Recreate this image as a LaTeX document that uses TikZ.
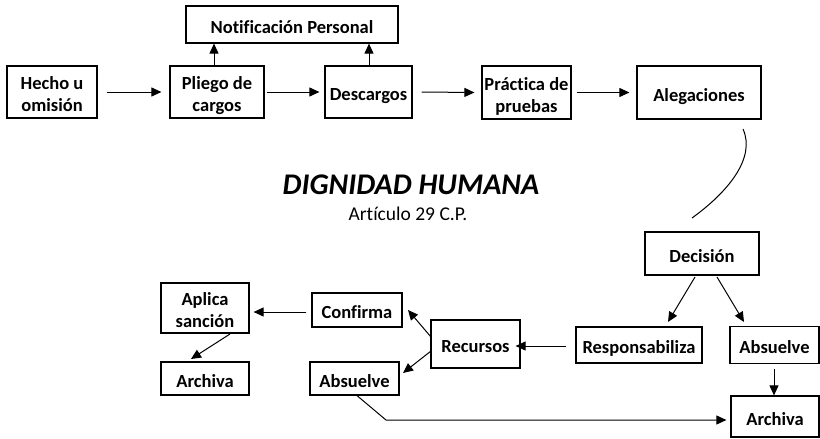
\documentclass[tikz,border=0pt]{standalone}
\usepackage{fontspec}
\setmainfont{Carlito}[Ligatures={NoCommon,NoRare,NoDiscretionary,NoContextual}]
\usetikzlibrary{arrows.meta}
\newcommand{\bxt}[1]{\raisebox{-4.5pt}[\height][\depth]{\begin{tabular}{@{}c@{}}#1\end{tabular}}}
\tikzset{
  box/.style={draw=black, line width=1.2pt, rectangle, align=center, inner sep=0pt,
    font=\fontsize{18.5}{22}\selectfont\bfseries},
  arr/.style={line width=1pt, -{Triangle[length=10pt,width=9pt]}},
  plain/.style={line width=1pt}
}
\begin{document}
\begin{tikzpicture}[x=1pt,y=-1pt]
\useasboundingbox (0,0) rectangle (820,439);
% top row
\node[box, minimum width=90pt, minimum height=52pt] (hecho) at (52,92) {\bxt{Hecho u\\omisión}};
\node[box, minimum width=94pt, minimum height=52pt] (pliego) at (217,92) {\bxt{Pliego de\\cargos}};
\node[box, minimum width=212pt, minimum height=37pt] (notif) at (292,24.5) {\bxt{Notificación Personal}};
\node[box, minimum width=87pt, minimum height=52pt] (desc) at (368.5,92) {\bxt{Descargos}};
\node[box, minimum width=89pt, minimum height=53pt] (prac) at (526.5,92.5) {\bxt{Práctica de\\pruebas}};
\node[box, minimum width=124pt, minimum height=53pt] (aleg) at (699,92.5) {\bxt{Alegaciones}};
% title
\node[font=\fontsize{30}{32}\selectfont\bfseries\itshape] (title) at (411,185) {DIGNIDAD HUMANA};
\node[font=\fontsize{19.5}{22}\selectfont] (art) at (408,214) {Artículo 29 C.P.};
% lower part
\node[box, minimum width=114pt, minimum height=43pt] (dec) at (702,253.5) {\bxt{Decisión}};
\node[box, minimum width=126pt, minimum height=36pt] (resp) at (639,345) {\bxt{Responsabiliza}};
\node[box, minimum width=89pt, minimum height=37pt] (absR) at (774.5,345) {\bxt{Absuelve}};
\node[box, minimum width=88pt, minimum height=41pt] (archR) at (775,416.5) {\bxt{Archiva}};
\node[box, minimum width=89pt, minimum height=48pt] (rec) at (475.5,344) {\bxt{Recursos}};
\node[box, minimum width=90pt, minimum height=34pt] (conf) at (357,310) {\bxt{Confirma}};
\node[box, minimum width=89pt, minimum height=33pt] (absL) at (354.5,378.5) {\bxt{Absuelve}};
\node[box, minimum width=88pt, minimum height=50pt] (apl) at (205,308) {\bxt{Aplica\\sanción}};
\node[box, minimum width=88pt, minimum height=33pt] (archL) at (205,378.5) {\bxt{Archiva}};
% connectors top row
\draw[arr] ([xshift=9pt]hecho.east) -- ([xshift=-8pt]pliego.west);
\draw[arr] ([xshift=2pt]pliego.east) -- ([xshift=-5pt]desc.west);
\draw[arr] ([xshift=9pt]desc.east) -- ([xshift=-7pt]prac.west);
\draw[arr] ([xshift=5pt]prac.east) -- ([xshift=-7pt]aleg.west);
\draw[arr] (pliego.north -| 214,0) -- (notif.south -| 214,0);
\draw[arr] (desc.north -| 369,0) -- (notif.south -| 369,0);
% curve
\coordinate (c1) at (743,129);
\coordinate (c2) at (692,218);
\draw[plain] (c1) .. controls (756,158) and (728,192) .. (c2);
% decision
\coordinate (d1) at (695,277);
\coordinate (d2) at (668,322);
\coordinate (d3) at (717,277);
\coordinate (d4) at (744,322);
\draw[arr] (d1) -- (d2);
\draw[arr] (d3) -- (d4);
\coordinate (a1) at (774,369);
\draw[arr] (a1) -- (archR.north -| a1);
\draw[arr] ([xshift=-9pt]resp.west |- 0,346) -- ([xshift=-5pt]rec.east |- 0,346);
\coordinate (r1) at (431,337);
\coordinate (r2) at (408,310);
\coordinate (r3) at (431,351);
\coordinate (r4) at (403,373);
\draw[arr] (r1) -- (r2);
\draw[arr] (r3) -- (r4);
\draw[arr] ([xshift=-5pt]conf.west |- 0,312) -- ([xshift=4pt]apl.east |- 0,312);
\coordinate (p1) at (230,334);
\coordinate (p2) at (191,359);
\draw[arr] (p1) -- (p2);
\coordinate (bend) at (386,420);
\draw[arr] (absL.south -| 357,0) -- (bend) -- ([xshift=-4pt]archR.west |- bend);
\end{tikzpicture}
\end{document}
